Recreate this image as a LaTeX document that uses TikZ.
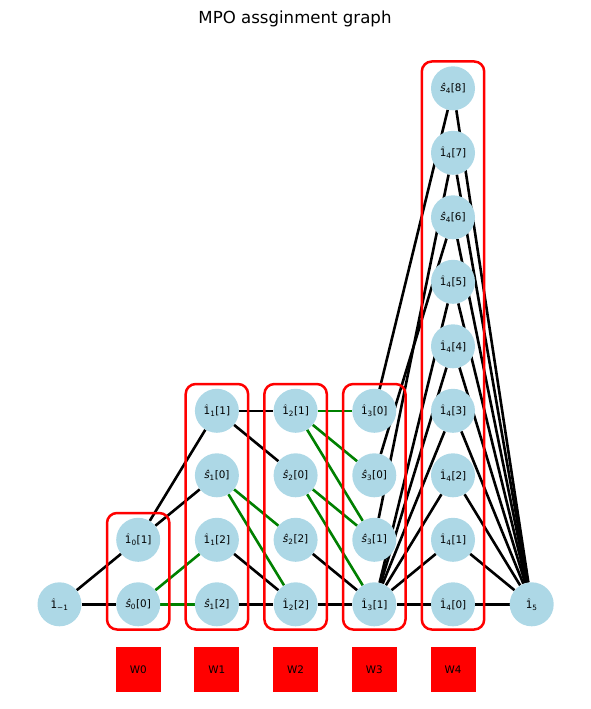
\documentclass[tikz,border=0pt]{standalone}
\usepackage{fontspec}
\setmainfont{DejaVu Sans}
\usetikzlibrary{backgrounds}
\definecolor{nodeblue}{HTML}{ADD8E6}
\definecolor{mplgreen}{HTML}{008000}
\newcommand{\hone}{\ensuremath{\hat{\mbox{1}}}}
\newcommand{\lbI}[2]{\hone\textsubscript{#1}[#2]}
\newcommand{\lbS}[2]{\textit{ŝ}\textsubscript{#1}[#2]}
\begin{document}
\begin{tikzpicture}[x=1pt, y=-1pt,
  font=\fontsize{10.4}{12.5}\selectfont,
  vnode/.style={circle, fill=nodeblue, minimum size=44pt, inner sep=0pt},
  bedge/.style={line width=2.6pt, black},
  gedge/.style={line width=2.6pt, mplgreen},
  wbox/.style={draw=red, line width=2.5pt, rounded corners=10pt},
  wsq/.style={fill=red, minimum size=45pt, inner sep=0pt}]
\useasboundingbox (0,0) rectangle (590,709);
\node[font=\fontsize{16.6}{20}\selectfont] (title) at (295,19) {MPO assginment graph};
% nodes
\node[vnode] (m1)  at (59.5,604.3)  {\hone\textsubscript{−1}};
\node[vnode] (s00) at (138.2,604.3) {\lbS{0}{0}};
\node[vnode] (i01) at (138.2,539.8) {\lbI{0}{1}};
\node[vnode] (s12) at (216.9,604.3) {\lbS{1}{2}};
\node[vnode] (i12) at (216.9,539.8) {\lbI{1}{2}};
\node[vnode] (s10) at (216.9,475.3) {\lbS{1}{0}};
\node[vnode] (i11) at (216.9,410.8) {\lbI{1}{1}};
\node[vnode] (i22) at (295.6,604.3) {\lbI{2}{2}};
\node[vnode] (s22) at (295.6,539.8) {\lbS{2}{2}};
\node[vnode] (s20) at (295.6,475.3) {\lbS{2}{0}};
\node[vnode] (i21) at (295.6,410.8) {\lbI{2}{1}};
\node[vnode] (i31) at (374.3,604.3) {\lbI{3}{1}};
\node[vnode] (s31) at (374.3,539.8) {\lbS{3}{1}};
\node[vnode] (s30) at (374.3,475.3) {\lbS{3}{0}};
\node[vnode] (i30) at (374.3,410.8) {\lbI{3}{0}};
\node[vnode] (f0) at (453,604.3) {\lbI{4}{0}};
\node[vnode] (f1) at (453,539.8) {\lbI{4}{1}};
\node[vnode] (f2) at (453,475.3) {\lbI{4}{2}};
\node[vnode] (f3) at (453,410.8) {\lbI{4}{3}};
\node[vnode] (f4) at (453,346.3) {\lbI{4}{4}};
\node[vnode] (f5) at (453,281.8) {\lbI{4}{5}};
\node[vnode] (f6) at (453,217.3) {\lbS{4}{6}};
\node[vnode] (f7) at (453,152.8) {\lbI{4}{7}};
\node[vnode] (f8) at (453,88.3)  {\lbS{4}{8}};
\node[vnode] (i5) at (531.7,604.3) {\hone\textsubscript{5}};
% edges
\begin{scope}[on background layer]
\draw[bedge] (m1) -- (s00);
\draw[bedge] (m1) -- (i01);
\draw[bedge] (i01) -- (i11);
\draw[bedge] (i01) -- (s10);
\draw[gedge] (s00) -- (i12);
\draw[gedge] (s00) -- (s12);
\draw[bedge] (i11) -- (i21);
\draw[bedge] (i11) -- (s20);
\draw[gedge] (s10) -- (s22);
\draw[gedge] (s10) -- (i22);
\draw[bedge] (i12) -- (i22);
\draw[bedge] (s12) -- (i22);
\draw[gedge] (i21) -- (i30);
\draw[gedge] (i21) -- (s30);
\draw[gedge] (i21) -- (s31);
\draw[gedge] (s20) -- (s31);
\draw[gedge] (s20) -- (i31);
\draw[bedge] (s22) -- (i31);
\draw[bedge] (i22) -- (i31);
\draw[bedge] (i30) -- (f8);
\draw[bedge] (s31) -- (f7);
\draw[bedge] (s30) -- (f6);
\foreach \k in {0,...,5} {\draw[bedge] (i31) -- (f\k);}
\foreach \k in {0,...,8} {\draw[bedge] (f\k) -- (i5);}
\end{scope}
% W groups
\draw[wbox] (107,513) rectangle (169.4,629.5);
\draw[wbox] (185.7,384) rectangle (248.1,629.5);
\draw[wbox] (264.4,384) rectangle (326.8,629.5);
\draw[wbox] (343.1,384) rectangle (405.5,629.5);
\draw[wbox] (421.8,61.5) rectangle (484.2,629.5);
\node[wsq] (w0) at (138.2,669.3) {W0};
\node[wsq] (w1) at (216.9,669.3) {W1};
\node[wsq] (w2) at (295.6,669.3) {W2};
\node[wsq] (w3) at (374.3,669.3) {W3};
\node[wsq] (w4) at (453,669.3) {W4};
\end{tikzpicture}
\end{document}
